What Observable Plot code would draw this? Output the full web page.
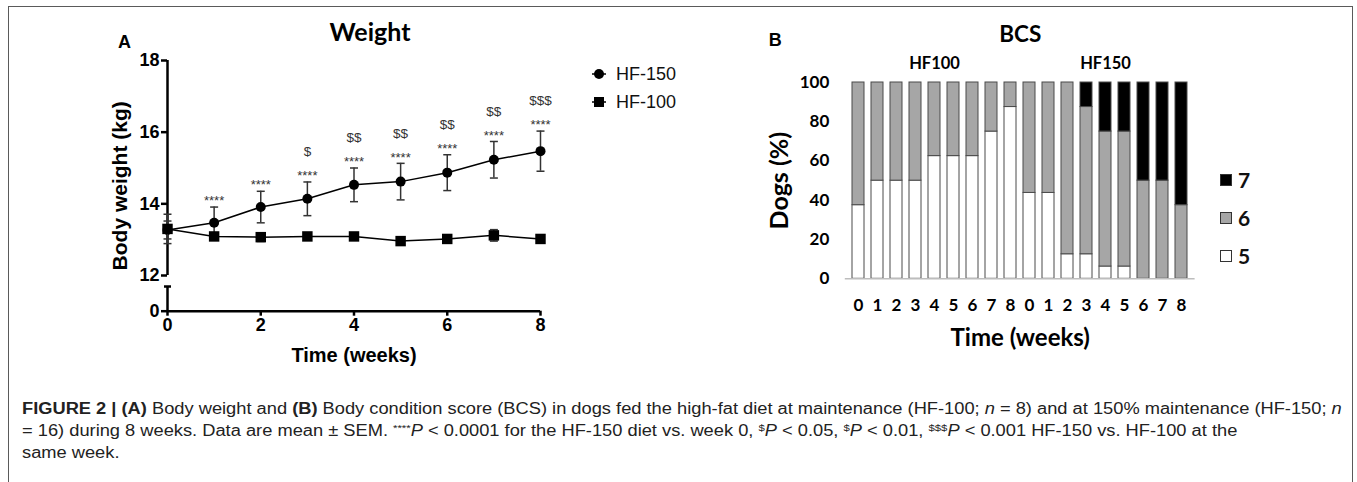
<!DOCTYPE html>
<html><head><meta charset="utf-8">
<script src="https://cdn.jsdelivr.net/npm/d3@7"></script>
<script src="https://cdn.jsdelivr.net/npm/@observablehq/plot@0.6"></script>
<style>
html,body{margin:0;padding:0;background:#fff}
body{width:1357px;height:482px;overflow:hidden;position:relative;font-family:Arial,"Liberation Sans",sans-serif}
#frame{position:absolute;left:8px;top:6px;width:1345px;height:520px;border:1.5px solid #5a5a5a;border-bottom:none;box-sizing:border-box}
#pa{position:absolute;left:0;top:0}
#pb{position:absolute;left:700px;top:0}
.leg{position:absolute;display:flex;align-items:center;white-space:nowrap}
.legA{font-family:Arial,"Liberation Sans",sans-serif;font-size:18px;color:#111}
.legB{font-family:Lato,sans-serif;font-weight:bold;font-size:21px;color:#111}
.sw{width:12px;height:12px;box-sizing:border-box;border:1px solid #333;margin-right:6px}
#cap{position:absolute;left:22px;top:398px;font-family:Arial,"Liberation Sans",sans-serif;font-size:16px;line-height:22px;color:#222}
#cap div{white-space:nowrap;transform-origin:0 0}
#cap sup{font-size:0.62em;vertical-align:0.55em;line-height:0}
</style>
</head><body>
<div id="frame"></div>
<div id="pa"></div>
<div id="pb"></div>
<div class="leg legA" style="left:591px;top:62px"><svg width="22" height="24"><line x1="1" y1="12" x2="15" y2="12" stroke="#000" stroke-width="1.5"/><circle cx="8" cy="12" r="5" fill="#000"/></svg><span style="margin-left:3px">HF-150</span></div>
<div class="leg legA" style="left:591px;top:90px"><svg width="22" height="24"><line x1="1" y1="12" x2="15" y2="12" stroke="#000" stroke-width="1.5"/><rect x="3" y="7" width="10" height="10" fill="#000"/></svg><span style="margin-left:3px">HF-100</span></div>
<div class="leg legB" style="left:1220px;top:167px"><div class="sw" style="background:#000"></div>7</div>
<div class="leg legB" style="left:1220px;top:205px"><div class="sw" style="background:#a6a6a6"></div>6</div>
<div class="leg legB" style="left:1220px;top:243px"><div class="sw" style="background:#fff"></div>5</div>
<div id="cap">
<div id="l1"><b>FIGURE 2 | (A)</b> Body weight and <b>(B)</b> Body condition score (BCS) in dogs fed the high-fat diet at maintenance (HF-100; <i>n</i> = 8) and at 150% maintenance (HF-150; <i>n</i></div>
<div id="l2">= 16) during 8 weeks. Data are mean ± SEM. <sup>****</sup><i>P</i> &lt; 0.0001 for the HF-150 diet vs. week 0, <sup>$</sup><i>P</i> &lt; 0.05, <sup>$</sup><i>P</i> &lt; 0.01, <sup>$$$</sup><i>P</i> &lt; 0.001 HF-150 vs. HF-100 at the</div>
<div id="l3">same week.</div>
</div>
<script>
// ---------- Panel A data ----------
const weeks = [0, 1, 2, 3, 4, 5, 6, 7, 8];
const hf150Mean = [13.27, 13.47, 13.91, 14.14, 14.53, 14.62, 14.87, 15.23, 15.47];
const hf150Sem  = [0.25, 0.44, 0.44, 0.47, 0.47, 0.51, 0.50, 0.51, 0.56];
const hf100Mean = [13.30, 13.09, 13.07, 13.09, 13.09, 12.96, 13.02, 13.12, 13.02];
const hf100Sem  = [0.41, 0.08, 0.12, 0.06, 0.06, 0.08, 0.08, 0.16, 0.06];
const starLabels   = ["", "****", "****", "****", "****", "****", "****", "****", "****"];
const dollarLabels = ["", "", "", "$", "$$", "$$", "$$", "$$", "$$$"];
const yTicksA = [0, 12, 14, 16, 18];
const xTicksA = [0, 2, 4, 6, 8];

// ---------- Panel B data ----------
const bcsWeeks = ["0", "1", "2", "3", "4", "5", "6", "7", "8"];
const groups = ["HF100", "HF150"];
const scores = ["5", "6", "7"];
const hf100Score5 = [37.5, 50, 50, 50, 62.5, 62.5, 62.5, 75, 87.5];
const hf100Score6 = [62.5, 50, 50, 50, 37.5, 37.5, 37.5, 25, 12.5];
const hf100Score7 = [0, 0, 0, 0, 0, 0, 0, 0, 0];
const hf150Score5 = [43.75, 43.75, 12.5, 12.5, 6.25, 6.25, 0, 0, 0];
const hf150Score6 = [56.25, 56.25, 87.5, 75, 68.75, 68.75, 50, 50, 37.5];
const hf150Score7 = [0, 0, 0, 12.5, 25, 25, 50, 50, 62.5];
const yTicksB = [0, 20, 40, 60, 80, 100];

// ---------- Panel A ----------
const a150 = weeks.map((w, i) => ({week: w, mean: hf150Mean[i], sem: hf150Sem[i], stars: starLabels[i], dollars: dollarLabels[i]}));
const a100 = weeks.map((w, i) => ({week: w, mean: hf100Mean[i], sem: hf100Sem[i]}));
const cap = w => ({draw(ctx) { ctx.moveTo(-w, 0); ctx.lineTo(w, 0); }});
const breakTop = 8.3;
const arial = "Arial, 'Liberation Sans', sans-serif";
const lato = "Lato, sans-serif";

const plotA = Plot.plot({
  width: 700, height: 370,
  marginLeft: 167, marginRight: 160, marginTop: 60, marginBottom: 59.3,
  style: {fontFamily: arial, background: "transparent", color: "#000", overflow: "visible"},
  x: {domain: [0, 8], axis: null},
  y: {type: "linear", domain: [0, 12, 18], range: [310.7, 275, 60], axis: null},
  marks: [
    Plot.ruleX([0], {y1: 12, y2: 18, stroke: "#000", strokeWidth: 2.5}),
    Plot.ruleX([0], {y1: 0, y2: breakTop, stroke: "#000", strokeWidth: 2.5}),
    Plot.dot([breakTop], {x: 0, y: d => d, symbol: cap(3.5), stroke: "#000", strokeWidth: 2.5}),
    Plot.ruleY([0], {stroke: "#000", strokeWidth: 2.5}),
    Plot.axisY(yTicksA, {tickSize: 6, tickPadding: 2, fontSize: 18, fontWeight: "bold", strokeWidth: 2.5, label: null}),
    Plot.axisX(xTicksA, {tickSize: 5, tickPadding: 2, fontSize: 18, fontWeight: "bold", strokeWidth: 2.5, label: null}),
    // HF-150
    Plot.ruleX(a150, {x: "week", y1: d => d.mean - d.sem, y2: d => d.mean + d.sem, stroke: "#333", strokeWidth: 1.5}),
    Plot.dot(a150, {x: "week", y: d => d.mean + d.sem, symbol: cap(4), stroke: "#333", strokeWidth: 1.5}),
    Plot.dot(a150, {x: "week", y: d => d.mean - d.sem, symbol: cap(4), stroke: "#333", strokeWidth: 1.5}),
    Plot.line(a150, {x: "week", y: "mean", stroke: "#000", strokeWidth: 1.5}),
    Plot.dot(a150, {x: "week", y: "mean", r: 5, fill: "#000"}),
    // HF-100
    Plot.ruleX(a100, {x: "week", y1: d => d.mean - d.sem, y2: d => d.mean + d.sem, stroke: "#333", strokeWidth: 1.5}),
    Plot.dot(a100, {x: "week", y: d => d.mean + d.sem, symbol: cap(4), stroke: "#333", strokeWidth: 1.5}),
    Plot.dot(a100, {x: "week", y: d => d.mean - d.sem, symbol: cap(4), stroke: "#333", strokeWidth: 1.5}),
    Plot.line(a100, {x: "week", y: "mean", stroke: "#000", strokeWidth: 1.5}),
    Plot.dot(a100, {x: "week", y: "mean", symbol: "square", r: 5.9, fill: "#000"}),
    // significance marks
    Plot.text(a150, {x: "week", y: d => d.mean + d.sem, text: "stars", dy: -6, fontSize: 13, fill: "#333"}),
    Plot.text(a150, {x: "week", y: d => d.mean + d.sem, text: "dollars", dy: -30, fontSize: 13.5, fill: "#333"}),
    // titles
    Plot.text(["Weight"], {frameAnchor: "top", lineAnchor: "middle", dx: 16, dy: -28, fontSize: 25, fontWeight: "bold", fontFamily: lato}),
    Plot.text(["A"], {frameAnchor: "top-left", lineAnchor: "middle", dx: -43, dy: -18, fontSize: 18, fontWeight: "bold", textAnchor: "middle"}),
    Plot.text(["Body weight (kg)"], {frameAnchor: "left", textAnchor: "middle", lineAnchor: "middle", rotate: -90, dx: -47, fontSize: 21, fontWeight: "bold"}),
    Plot.text(["Time (weeks)"], {frameAnchor: "bottom", lineAnchor: "middle", dy: 44, fontSize: 20, fontWeight: "bold"})
  ]
});
document.getElementById("pa").appendChild(plotA);

// ---------- Panel B ----------
const bData = {
  HF100: [hf100Score5, hf100Score6, hf100Score7],
  HF150: [hf150Score5, hf150Score6, hf150Score7]
};
const keys = groups.flatMap(g => bcsWeeks.map(w => g + "-" + w));
const tidy = [];
groups.forEach(g => bcsWeeks.forEach((w, i) => scores.forEach((s, j) => {
  tidy.push({key: g + "-" + w, group: g, week: w, score: s, pct: bData[g][j][i]});
})));
const groupLabels = groups.map(g => ({name: g, mid: g + "-" + bcsWeeks[4]}));

const plotB = Plot.plot({
  width: 657, height: 370,
  marginLeft: 144.8, marginRight: 162.4, marginTop: 82, marginBottom: 91.7,
  style: {fontFamily: lato, background: "transparent", color: "#000", overflow: "visible"},
  x: {type: "band", domain: keys, padding: 0.355, axis: null},
  y: {domain: [0, 100], axis: null},
  color: {domain: scores, range: ["#ffffff", "#a6a6a6", "#000000"]},
  marks: [
    Plot.barY(tidy.filter(d => d.pct > 0), {x: "key", y: "pct", fill: "score", stroke: "#4a4a4a", strokeWidth: 1}),
    Plot.ruleY([0], {stroke: "#bdbdbd", strokeWidth: 1.5}),
    Plot.axisY(yTicksB, {tickSize: 0, tickPadding: 16, fontSize: 17, fontWeight: "bold", label: null}),
    Plot.axisX({tickSize: 0, tickPadding: 20, tickFormat: k => k.split("-")[1], fontSize: 17, fontWeight: "bold", label: null}),
    Plot.text(groupLabels, {x: "mid", text: "name", frameAnchor: "top", lineAnchor: "middle", dy: -19, fontSize: 16.5, fontWeight: "bold"}),
    Plot.text(["BCS"], {frameAnchor: "top", lineAnchor: "middle", dy: -48, fontSize: 22.5, fontWeight: "bold"}),
    Plot.text(["B"], {frameAnchor: "top-left", lineAnchor: "middle", textAnchor: "middle", dx: -70, dy: -42, fontSize: 18, fontWeight: "bold", fontFamily: arial}),
    Plot.text(["Dogs (%)"], {frameAnchor: "left", textAnchor: "middle", lineAnchor: "middle", rotate: -90, dx: -65, fontSize: 25, fontWeight: "bold"}),
    Plot.text(["Time (weeks)"], {frameAnchor: "bottom", lineAnchor: "middle", dy: 60, fontSize: 24, fontWeight: "bold"})
  ]
});
document.getElementById("pb").appendChild(plotB);

// caption: stretch lines to the reference width
const l1 = document.getElementById("l1");
const w1 = l1.scrollWidth;
const sx = 1320 / w1;
["l1", "l2", "l3"].forEach(id => { document.getElementById(id).style.transform = `scaleX(${sx})`; });
</script>
</body></html>
